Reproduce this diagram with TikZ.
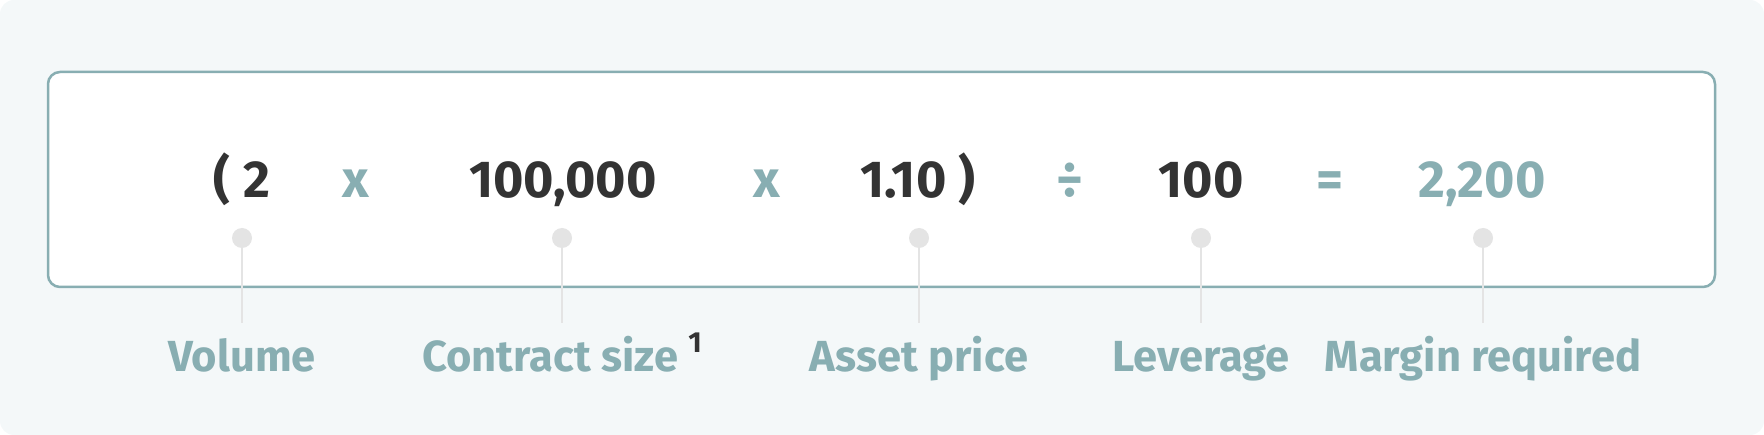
\documentclass[tikz,border=0pt]{standalone}
\usepackage{fontspec}
\setmainfont{Fira Sans}
\usepackage{xcolor}
\definecolor{panel}{HTML}{F4F8F9}
\definecolor{sage}{HTML}{88AEB2}
\definecolor{ink}{HTML}{333333}
\definecolor{pindot}{HTML}{E4E4E4}

\begin{document}
\begin{tikzpicture}[x=1pt, y=-1pt,
    frame/.style = {draw=sage, line width=2.5, rounded corners=12, fill=white,
      minimum width=1667, minimum height=215, inner sep=0},
    num/.style = {font=\bfseries\fontsize{52}{52}\selectfont, text=ink,
      anchor=base, inner sep=0},
    op/.style = {num, text=sage},
    pin/.style = {circle, fill=pindot, minimum size=20, inner sep=0},
    stem/.style = {draw=pindot, line width=2},
    tag/.style = {font=\bfseries\fontsize{43.5}{43.5}\selectfont, text=sage,
      anchor=base, inner sep=0}]
    \useasboundingbox (0,0) rectangle (1764,435);
    \fill[panel, rounded corners=14] (0,0) rectangle (1764,435);
    \node[frame] (box) at (881.5,179.5) {};
    % the sum
    \node[num] (vol) at (242,198) {( 2};
    \node[op]  (m1)  at (356,198) {x};
    \node[num] (con) at (563,198) {100,000};
    \node[op]  (m2)  at (767,198) {x};
    \node[num] (ast) at (918,198) {1.10 )};
    \node[op]  (dv)  at (1070,198) {÷};
    \node[num] (lev) at (1201,198) {100};
    \node[op]  (eq)  at (1330,198) {=};
    \node[op]  (mar) at (1482,198) {2,200};
    % pins and their names
    \foreach \x/\txt [count=\i] in {242/Volume,
        562/{Contract size \raisebox{19pt}{\fontsize{29}{29}\selectfont\color{ink}1}},
        919/Asset price, 1201/Leverage, 1483/Margin required}{
      \node[pin] (p\i) at (\x,238) {};
      \coordinate (e\i) at (\x,323);
      \draw[stem] (p\i) -- (e\i);
      \node[tag] (t\i) at (\x,372) {\txt};
    }
\end{tikzpicture}
\end{document}
